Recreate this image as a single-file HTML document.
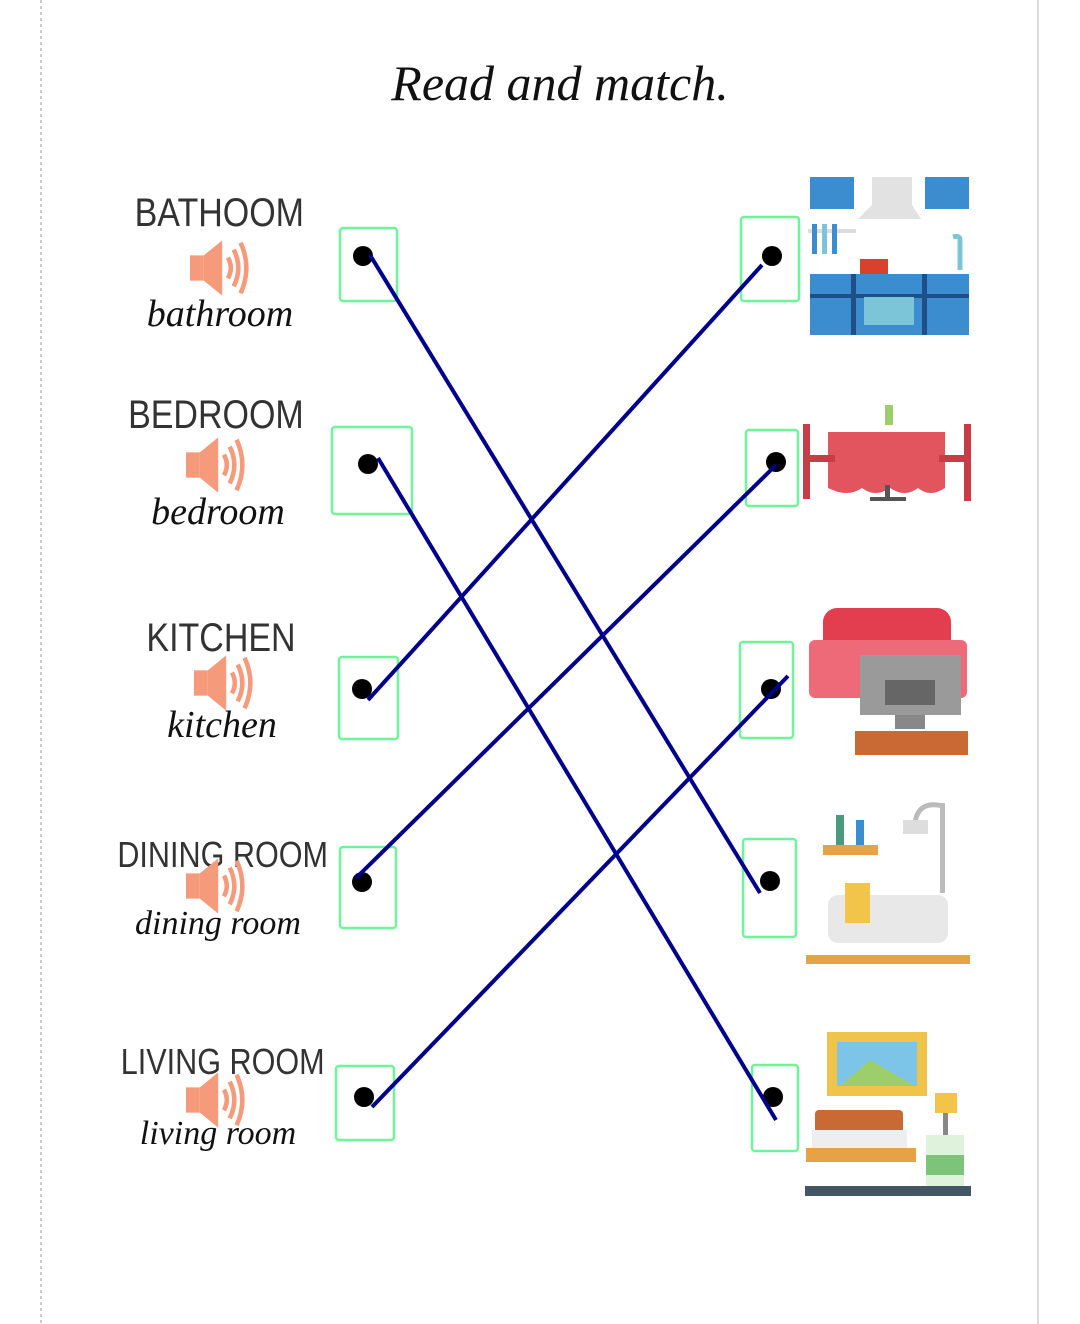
<!DOCTYPE html>
<html><head><meta charset="utf-8"><style>
html,body{margin:0;padding:0;background:#fff}
svg{display:block}
.cap{font-family:"Liberation Sans",sans-serif;font-size:40px;fill:#333;font-weight:normal}
.cur{font-family:"Liberation Serif",serif;font-style:italic;font-size:38px;fill:#111}
</style></head><body>
<svg width="1080" height="1324" viewBox="0 0 1080 1324" xmlns="http://www.w3.org/2000/svg">
<line x1="41" y1="0" x2="41" y2="1324" stroke="#ccc" stroke-width="2" stroke-dasharray="3,3"/>
<line x1="1038" y1="0" x2="1038" y2="1324" stroke="#ddd" stroke-width="2"/>
<text x="560" y="100" text-anchor="middle" font-family="Liberation Serif,serif" font-style="italic" font-size="50" fill="#111">Read and match.</text>

<g class="cap" text-anchor="middle" transform="scale(0.85,1)">
<text x="258" y="226">BATHOOM</text>
<text x="254" y="428">BEDROOM</text>
<text x="260" y="651">KITCHEN</text>
<text x="262" y="867" font-size="36">DINING ROOM</text>
<text x="262" y="1074" font-size="36">LIVING ROOM</text>
</g>
<g class="cur" text-anchor="middle">
<text x="220" y="326">bathroom</text>
<text x="218" y="524">bedroom</text>
<text x="222" y="737">kitchen</text>
<text x="218" y="934" font-size="34">dining room</text>
<text x="218" y="1144" font-size="34">living room</text>
</g>
<defs><g id="spk" transform="scale(1.15)"><rect x="0" y="-11" width="12" height="22" fill="#f59a7a"/><polygon points="12,-11 28,-24 28,24 12,11" fill="#f59a7a"/>
<path d="M33,-9 Q38,0 33,9" stroke="#f59a7a" stroke-width="4" fill="none"/><path d="M38,-16 Q46,0 38,16" stroke="#f59a7a" stroke-width="4" fill="none"/><path d="M44,-22 Q54,0 44,22" stroke="#f59a7a" stroke-width="4" fill="none"/></g></defs>
<use href="#spk" x="190" y="268"/><use href="#spk" x="186" y="465"/><use href="#spk" x="194" y="683"/><use href="#spk" x="186" y="886"/><use href="#spk" x="186" y="1100"/>

<g fill="none" stroke="#6ef59a" stroke-width="2.5">
<rect x="340" y="228" width="57" height="73" rx="3"/><rect x="332" y="427" width="80" height="87" rx="3"/><rect x="339" y="657" width="59" height="82" rx="3"/><rect x="340" y="847" width="56" height="81" rx="3"/><rect x="336" y="1066" width="58" height="74" rx="3"/>
<rect x="741" y="217" width="58" height="84" rx="3"/><rect x="746" y="430" width="52" height="76" rx="3"/><rect x="740" y="642" width="53" height="96" rx="3"/><rect x="743" y="839" width="53" height="98" rx="3"/><rect x="752" y="1065" width="46" height="86" rx="3"/>
</g>
<g fill="#000">
<circle cx="363" cy="256" r="10"/><circle cx="368" cy="464" r="10"/><circle cx="362" cy="689" r="10"/><circle cx="362" cy="882" r="10"/><circle cx="364" cy="1097" r="10"/>
<circle cx="772" cy="256" r="10"/><circle cx="776" cy="462" r="10"/><circle cx="771" cy="689" r="10"/><circle cx="770" cy="881" r="10"/><circle cx="773" cy="1097" r="10"/>
</g>
<g stroke="#00008b" stroke-width="4">
<line x1="370" y1="255" x2="760" y2="893"/><line x1="378" y1="458" x2="776" y2="1120"/><line x1="368" y1="700" x2="762" y2="265"/><line x1="356" y1="878" x2="776" y2="465"/><line x1="372" y1="1107" x2="788" y2="676"/>
</g>

<!-- kitchen -->
<rect x="810" y="177" width="44" height="32" fill="#3b8dd0"/><rect x="925" y="177" width="44" height="32" fill="#3b8dd0"/>
<polygon points="872,177 912,177 912,205 921,219 858,219 872,205" fill="#e2e2e2"/>
<rect x="808" y="229" width="48" height="4" fill="#ddd"/>
<rect x="812" y="224" width="5" height="30" fill="#3b8dd0"/><rect x="822" y="224" width="5" height="30" fill="#7cc4d8"/><rect x="832" y="224" width="5" height="30" fill="#3b8dd0"/>
<rect x="860" y="259" width="28" height="16" fill="#d9412c"/>
<rect x="810" y="274" width="159" height="61" fill="#3b8dd0"/><rect x="851" y="274" width="5" height="61" fill="#1e4f86"/><rect x="922" y="274" width="5" height="61" fill="#1e4f86"/><rect x="810" y="294" width="159" height="4" fill="#1e4f86"/>
<rect x="864" y="297" width="50" height="28" fill="#7cc4d8"/>
<path d="M960,270 V240 Q960,235 953,237" stroke="#7cc4d8" stroke-width="5" fill="none"/>
<!-- dining -->
<rect x="885" y="405" width="8" height="20" fill="#9ccf6a"/>
<path d="M828,432 H945 V488 Q930,498 918,488 Q905,498 890,488 Q875,498 862,488 Q848,498 828,488 Z" fill="#e2545e"/>
<rect x="803" y="424" width="7" height="75" fill="#c83c48"/><rect x="964" y="424" width="7" height="77" fill="#c83c48"/><rect x="805" y="455" width="30" height="7" fill="#c83c48"/><rect x="939" y="455" width="30" height="7" fill="#c83c48"/>
<rect x="885" y="485" width="5" height="12" fill="#555"/><rect x="870" y="497" width="36" height="4" fill="#555"/>
<!-- living -->
<rect x="823" y="608" width="128" height="60" rx="14" fill="#e23e50"/><rect x="809" y="640" width="158" height="58" rx="6" fill="#ee6a78"/>
<rect x="860" y="655" width="101" height="60" fill="#9a9a9a"/><rect x="885" y="680" width="50" height="25" fill="#666"/>
<rect x="895" y="715" width="30" height="14" fill="#888"/>
<rect x="855" y="731" width="113" height="24" fill="#c96a34"/>
<!-- bathroom -->
<rect x="940" y="803" width="5" height="90" fill="#bbb"/><path d="M943,806 Q918,800 915,823" stroke="#bbb" stroke-width="5" fill="none"/><rect x="903" y="820" width="25" height="14" fill="#ddd"/>
<rect x="823" y="845" width="55" height="10" fill="#e8a246"/><rect x="836" y="815" width="8" height="30" fill="#4a9a80"/><rect x="856" y="820" width="8" height="25" fill="#3b8dd0"/>
<rect x="828" y="895" width="120" height="48" rx="10" fill="#e8e8e8"/><rect x="845" y="883" width="25" height="40" fill="#f3c44a"/>
<rect x="806" y="955" width="164" height="9" fill="#e8a246"/>
<!-- bedroom -->
<rect x="827" y="1032" width="100" height="64" fill="#f0c44a"/><rect x="837" y="1042" width="80" height="44" fill="#7cc4e8"/><polygon points="840,1086 870,1060 915,1086" fill="#9ccf6a"/>
<rect x="815" y="1110" width="88" height="36" rx="4" fill="#c96a34"/><rect x="812" y="1130" width="95" height="20" fill="#eee"/><rect x="806" y="1148" width="110" height="14" fill="#e8a246"/>
<rect x="926" y="1135" width="38" height="55" fill="#dff2dc"/><rect x="926" y="1155" width="38" height="20" fill="#7cc47a"/><rect x="935" y="1093" width="22" height="20" fill="#f3c44a"/><rect x="943" y="1113" width="5" height="22" fill="#888"/>
<rect x="805" y="1186" width="166" height="10" fill="#445566"/>
</svg>
</body></html>
